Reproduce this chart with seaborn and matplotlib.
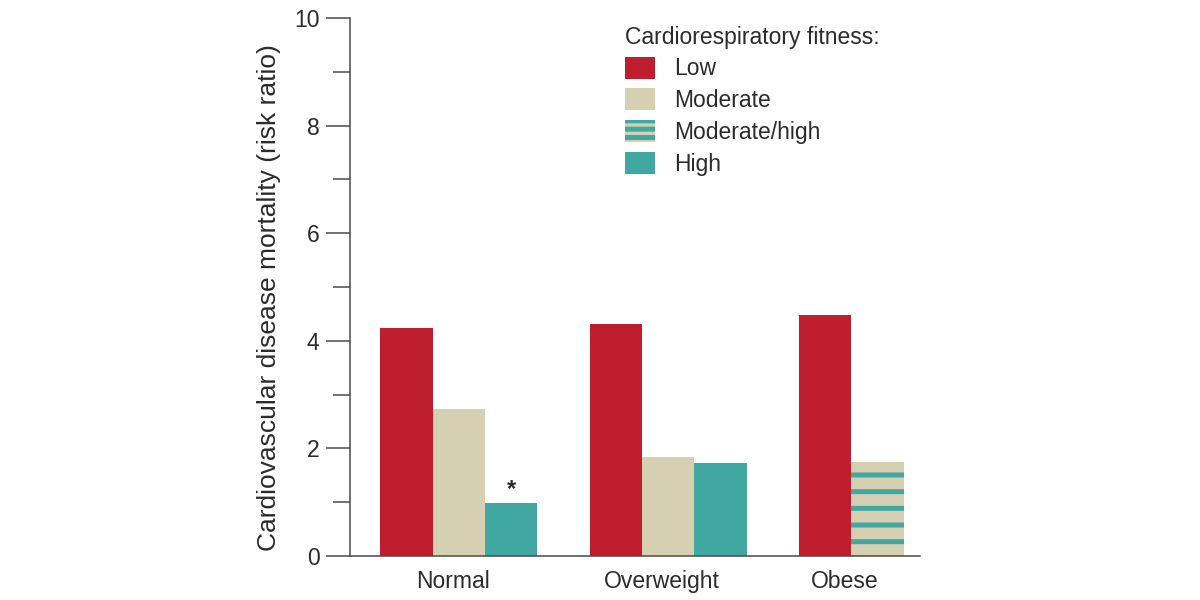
"""
Cardiovascular disease mortality by BMI group and cardiorespiratory fitness.
Grouped bars, one stripe-filled bar for the moderate/high fitness group.
"""

import pandas as pd
import matplotlib
matplotlib.use("Agg")
import matplotlib.pyplot as plt
from matplotlib.patches import Patch
from matplotlib.ticker import MultipleLocator
import seaborn as sns

# ---------------------------------------------------------------------------
# Data
# ---------------------------------------------------------------------------

GROUPS = ["Normal", "Overweight", "Obese"]
NORMAL_FITNESS = ["Low", "Moderate", "High"]
NORMAL_VALUES = [4.24, 2.74, 0.99]
OVERWEIGHT_FITNESS = ["Low", "Moderate", "High"]
OVERWEIGHT_VALUES = [4.31, 1.84, 1.73]
OBESE_FITNESS = ["Low", "Moderate/high"]
OBESE_VALUES = [4.48, 1.75]

LEGEND_LABELS = ["Low", "Moderate", "Moderate/high", "High"]
LEGEND_TITLE = "Cardiorespiratory fitness:"
Y_LABEL = "Cardiovascular disease mortality (risk ratio)"
STAR_GROUP, STAR_FITNESS = "Normal", "High"

RED = "#BE1E2D"
BEIGE = "#D5D0B1"
TEAL = "#40A8A0"
TEXT = "#2b2b2b"
AXIS = "#4a4a4a"

GROUP_PITCH = 4  # bar widths between the start of consecutive groups
FONT = 16.5

# ---------------------------------------------------------------------------
# Build a tidy table with bar centres
# ---------------------------------------------------------------------------

rows = []
for g_idx, (group, fitness, values) in enumerate(zip(
        GROUPS,
        [NORMAL_FITNESS, OVERWEIGHT_FITNESS, OBESE_FITNESS],
        [NORMAL_VALUES, OVERWEIGHT_VALUES, OBESE_VALUES])):
    for b_idx, (fit, val) in enumerate(zip(fitness, values)):
        rows.append({"group": group, "fitness": fit, "value": val,
                     "pos": g_idx * GROUP_PITCH + b_idx + 0.5})
df = pd.DataFrame(rows)

plain = df[df["fitness"] != "Moderate/high"]
striped = df[df["fitness"] == "Moderate/high"]

# ---------------------------------------------------------------------------
# Plot
# ---------------------------------------------------------------------------

sns.set_style("white")
plt.rcParams["font.family"] = ["Liberation Sans", "DejaVu Sans"]
plt.rcParams["hatch.linewidth"] = 3.6

fig = plt.figure(figsize=(12, 6), dpi=100)
ax = fig.add_axes([350 / 1200, 1 - 556 / 600, 570 / 1200, 538 / 600])

sns.barplot(data=plain, x="pos", y="value", hue="fitness",
            palette={"Low": RED, "Moderate": BEIGE, "High": TEAL},
            saturation=1, native_scale=True, dodge=False, width=1,
            errorbar=None, linewidth=0, legend=False, ax=ax)
sns.barplot(data=striped, x="pos", y="value", color=BEIGE, saturation=1,
            native_scale=True, width=1, errorbar=None, linewidth=0, ax=ax)
for bar in ax.containers[-1]:
    bar.set_facecolor(BEIGE)
    bar.set_edgecolor(TEAL)
    bar.set_linewidth(0)
    bar.set_hatch("-")

# asterisk above the significant bar
star = df[(df["group"] == STAR_GROUP) & (df["fitness"] == STAR_FITNESS)].iloc[0]
ax.text(star["pos"], star["value"] + 0.04, "*", ha="center", va="bottom",
        fontsize=17, fontweight="bold", color=TEXT)

# axes
n_bars_last = len(OBESE_VALUES)
ax.set_xlim(-0.58, (len(GROUPS) - 1) * GROUP_PITCH + n_bars_last + 0.31)
ax.set_ylim(0, 10)
centres = df.groupby("group", sort=False)["pos"].mean()
ax.set_xticks(centres.values - 0.12)
ax.set_xticklabels(GROUPS)
ax.yaxis.set_major_locator(MultipleLocator(2))
ax.yaxis.set_minor_locator(MultipleLocator(1))
ax.tick_params(axis="x", length=0, pad=10, labelsize=FONT, colors=TEXT)
ax.tick_params(axis="y", which="major", direction="out", length=17, width=1.1,
               color=AXIS, pad=5, labelsize=FONT, labelcolor=TEXT, left=True)
ax.tick_params(axis="y", which="minor", direction="out", length=12, width=1.1,
               color=AXIS, left=True)
ax.set_xlabel("")
ax.set_ylabel(Y_LABEL, fontsize=19, color=TEXT)
ax.yaxis.set_label_coords(-0.121, 0.481)

for side in ["top", "right"]:
    ax.spines[side].set_visible(False)
for side in ["left", "bottom"]:
    ax.spines[side].set_color(AXIS)
    ax.spines[side].set_linewidth(1.1)

# legend
handles = [
    Patch(facecolor=RED, linewidth=0),
    Patch(facecolor=BEIGE, linewidth=0),
    Patch(facecolor=BEIGE, edgecolor=TEAL, hatch="--", linewidth=0),
    Patch(facecolor=TEAL, linewidth=0),
]
leg = ax.legend(handles, LEGEND_LABELS, title=LEGEND_TITLE,
                loc="upper left", bbox_to_anchor=(0.482, 0.986),
                frameon=False, fontsize=FONT, title_fontsize=FONT,
                alignment="left", borderaxespad=0, borderpad=0,
                handlelength=1.3, handleheight=1.1, handletextpad=0.85,
                labelspacing=0.35)
for t in leg.get_texts():
    t.set_color(TEXT)
leg.get_title().set_color(TEXT)

fig.savefig("out.png", dpi=100)
